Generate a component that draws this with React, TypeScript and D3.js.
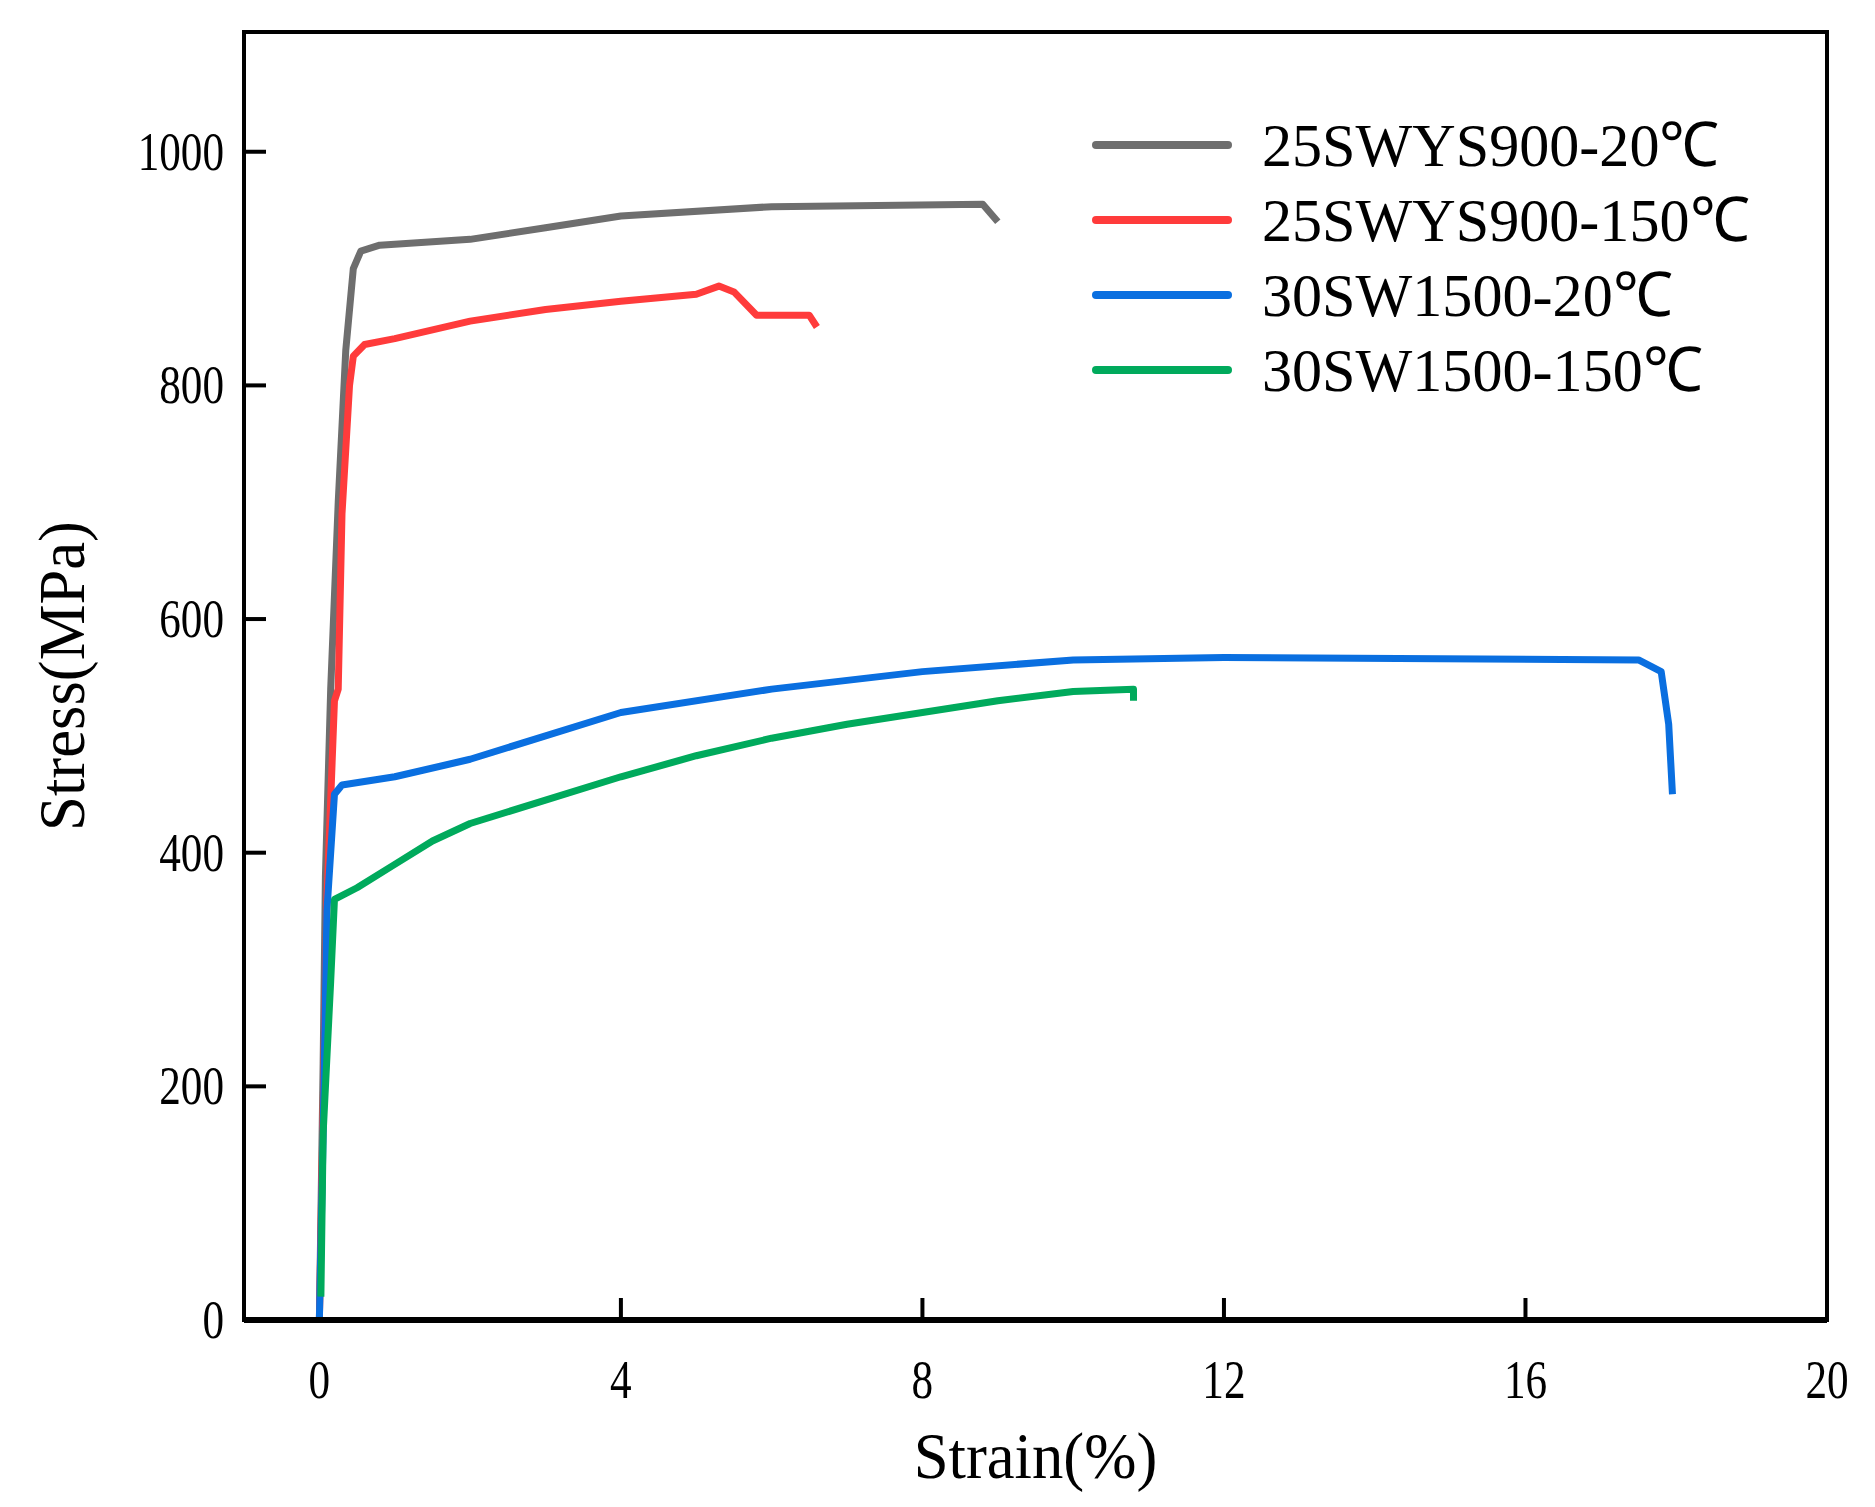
import React from "react";
import * as d3 from "d3";

const names = ["25SWYS900-20℃", "25SWYS900-150℃", "30SW1500-20℃", "30SW1500-150℃"];
const colors = ["#6e6e6e", "#ff3b3b", "#0a6fe0", "#00aa5c"];
const gray: [number, number][] = [[0,0],[0.05,220],[0.08,380],[0.15,540],[0.25,700],[0.35,830],[0.45,900],[0.55,915],[0.8,920],[2,925],[3,935],[4,945],[6,953],[8.8,955],[9,940]];
const red: [number, number][] = [[0,0],[0.1,360],[0.2,530],[0.25,540],[0.3,690],[0.4,800],[0.45,825],[0.6,835],[1,840],[2,855],[3,865],[4,872],[5,878],[5.3,885],[5.5,880],[5.8,860],[6.5,860],[6.6,850]];
const blue: [number, number][] = [[0,0],[0.05,160],[0.1,350],[0.2,450],[0.3,458],[1,465],[2,480],[3,500],[4,520],[6,540],[8,555],[10,565],[12,567],[17.5,565],[17.8,555],[17.9,510],[17.95,450]];
const green: [number, number][] = [[0.02,20],[0.05,160],[0.15,290],[0.2,360],[0.5,370],[1,390],[1.5,410],[2,425],[3,445],[4,465],[5,483],[6,498],[7,510],[8,520],[9,530],[10,538],[10.8,540],[10.8,530]];
const series = [gray, red, blue, green];
const xTicks = [0, 4, 8, 12, 16, 20];
const yTicks = [0, 200, 400, 600, 800, 1000];

export default function App() {
  const L = 244, R = 1827, T = 32, B = 1320;
  const x = d3.scaleLinear().domain([-1, 20]).range([L, R]);
  const y = d3.scaleLinear().domain([0, 1102.5]).range([B, T]);
  const line = d3.line<[number, number]>().x(d => x(d[0])).y(d => y(d[1]));
  const font = "'Liberation Serif', serif";
  const sx = (cx: number, k: number) => `translate(${cx},0) scale(${k},1) translate(${-cx},0)`;
  return (
    <svg width={1875} height={1507} style={{ display: "block", position: "absolute", left: 0, top: 0 }}>
      <rect width={1875} height={1507} fill="#fff" />
      <defs><clipPath id="c"><rect x={L} y={T} width={R - L} height={B - T} /></clipPath></defs>
      <g clipPath="url(#c)">
        {series.map((s, i) => (
          <path key={i} d={line(s)!} fill="none" stroke={colors[i]} strokeWidth={7} strokeLinejoin="round" />
        ))}
      </g>
      <rect x={L} y={T} width={R - L} height={B - T} fill="none" stroke="#000" strokeWidth={4} />
      <line x1={L} x2={R} y1={B} y2={B} stroke="#000" strokeWidth={6} />
      {xTicks.filter(t => t > 0 && t < 20).map(t => (
        <line key={t} x1={x(t)} x2={x(t)} y1={B} y2={B - 22} stroke="#000" strokeWidth={4} />
      ))}
      {yTicks.filter(t => t > 0).map(t => (
        <line key={t} x1={L} x2={L + 22} y1={y(t)} y2={y(t)} stroke="#000" strokeWidth={4} />
      ))}
      {xTicks.map(t => (
        <text key={t} x={x(t)} y={B + 78} textAnchor="middle" fontFamily={font} fontSize={54}
          transform={sx(x(t), 0.8)}>{t}</text>
      ))}
      {yTicks.map(t => (
        <text key={t} x={L - 20} y={y(t) + 18} textAnchor="end" fontFamily={font} fontSize={54}
          transform={sx(L - 20, 0.8)}>{t}</text>
      ))}
      <text x={(L + R) / 2} y={1478} textAnchor="middle" fontFamily={font} fontSize={66}
        transform={sx((L + R) / 2, 0.95)}>Strain(%)</text>
      <text transform={`translate(84,${(T + B) / 2}) rotate(-90) scale(0.95,1)`} textAnchor="middle" fontFamily={font} fontSize={66}>Stress(MPa)</text>
      {names.map((n, i) => {
        const yy = 145 + i * 75;
        return (
          <g key={n}>
            <line x1={1096} x2={1228} y1={yy} y2={yy} stroke={colors[i]} strokeWidth={8} strokeLinecap="round" />
            <text x={1262} y={yy + 21} fontFamily={font} fontSize={62}
              transform={sx(1262, 0.97)}>{n}</text>
          </g>
        );
      })}
    </svg>
  );
}
